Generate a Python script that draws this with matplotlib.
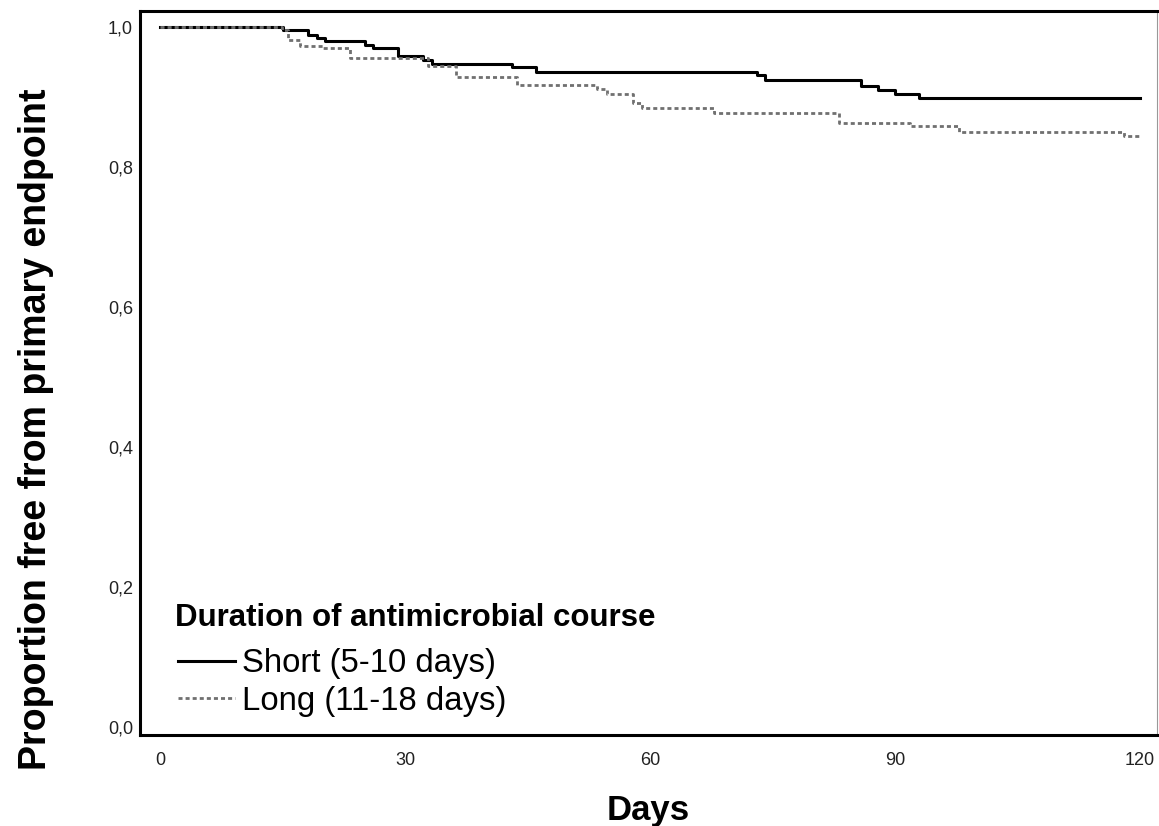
import matplotlib
matplotlib.use("Agg")
import matplotlib.pyplot as plt
from matplotlib.ticker import FuncFormatter

plt.rcParams['font.family'] = ['Liberation Sans', 'DejaVu Sans']

# Kaplan-Meier style step data
short_days = [0, 15.1, 18.1, 19.2, 20.2, 25.1, 26.1, 29.1, 32.2, 33.3, 43.1, 46.1,
              73.1, 74.1, 85.9, 87.9, 90.0, 93.0, 120]
short_surv = [1.0, 0.996, 0.989, 0.984, 0.980, 0.975, 0.970, 0.958, 0.953, 0.947, 0.943, 0.936,
              0.931, 0.925, 0.916, 0.910, 0.905, 0.899, 0.899]

long_days = [0, 15.0, 15.7, 17.1, 20.0, 23.3, 32.8, 36.3, 43.7, 53.5, 54.8, 57.9,
             59.0, 67.9, 83.2, 91.8, 97.9, 118.1, 120]
long_surv = [1.0, 0.996, 0.981, 0.973, 0.970, 0.956, 0.944, 0.929, 0.917, 0.912, 0.905, 0.892,
             0.884, 0.877, 0.863, 0.858, 0.850, 0.844, 0.844]

x_ticks = [0, 30, 60, 90, 120]
y_ticks = [0.0, 0.2, 0.4, 0.6, 0.8, 1.0]

fig = plt.figure(figsize=(11.59, 8.26), dpi=100)
ax = fig.add_axes([0.1208, 0.1102, 0.8775, 0.8765])

ax.step(short_days, short_surv, where='post', color='black', lw=2.2,
        label='Short (5-10 days)')
ax.step(long_days, long_surv, where='post', color='#707070', lw=2.0,
        dashes=(1.45, 1.1), label='Long (11-18 days)')

ax.set_xlim(-2.45, 122.1)
ax.set_ylim(-0.0114, 1.0229)
ax.set_xticks(x_ticks)
ax.set_yticks(y_ticks)
ax.yaxis.set_major_formatter(FuncFormatter(lambda v, p: f"{v:.1f}".replace('.', ',')))
ax.tick_params(length=0, labelsize=13, colors='#222222')
ax.tick_params(axis='y', pad=5)
ax.tick_params(axis='x', pad=12)

for side in ['left', 'top', 'bottom']:
    ax.spines[side].set_linewidth(2.2)
    ax.spines[side].set_color('black')
ax.spines['right'].set_linewidth(0.8)
ax.spines['right'].set_color('#999999')

ax.set_xlabel('Days', fontsize=25, fontweight='bold', labelpad=18)
ax.set_ylabel('Proportion free from primary endpoint', fontsize=27, fontweight='bold')
ax.yaxis.set_label_coords(-0.0846, 0.4227)

# legend title drawn separately so the gap above the entries matches
ax.text(0.0344, 0.1616, 'Duration of antimicrobial course', transform=ax.transAxes,
        fontsize=22.5, fontweight='bold', ha='left', va='center')
leg = ax.legend(loc='lower left', bbox_to_anchor=(0.037, 0.025), frameon=False,
                fontsize=23.7, handlelength=1.75, handletextpad=0.2,
                labelspacing=0.2, borderpad=0, borderaxespad=0)

fig.savefig('out.png', dpi=100)
